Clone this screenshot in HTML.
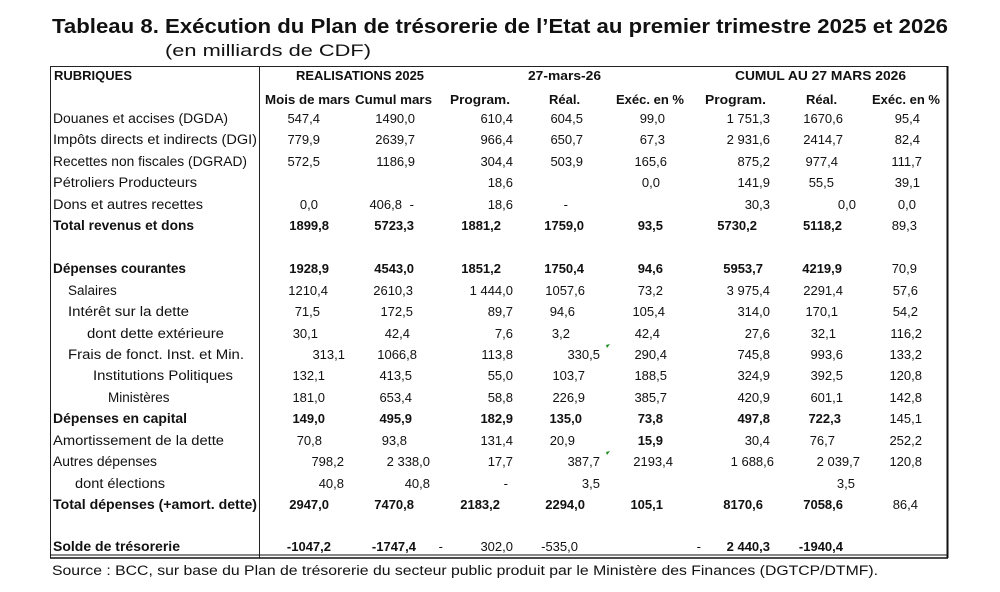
<!DOCTYPE html>
<html><head><meta charset="utf-8"><style>
html,body{margin:0;padding:0;background:#fff;}
svg{display:block;}
text{font-family:"Liberation Sans",sans-serif;fill:#111;}
.t{font-size:13.5px;}
.h{font-size:13px;}
.b{font-weight:bold;}
.n{font-size:13px;text-anchor:end;}
</style></head><body>
<svg width="1000" height="592" viewBox="0 0 1000 592" xmlns="http://www.w3.org/2000/svg">
<text x="52" y="33" font-size="20" font-weight="bold" textLength="896" lengthAdjust="spacingAndGlyphs">Tableau 8. Exécution du Plan de trésorerie de l’Etat au premier trimestre 2025 et 2026</text>
<text x="165" y="56" font-size="17" textLength="206" lengthAdjust="spacingAndGlyphs">(en milliards de CDF)</text>
<line x1="50" y1="66.5" x2="948" y2="66.5" stroke="#222" stroke-width="1"/>
<line x1="50.5" y1="66" x2="50.5" y2="558" stroke="#222" stroke-width="1"/>
<line x1="947.5" y1="66" x2="947.5" y2="558" stroke="#111" stroke-width="2"/>
<line x1="259.5" y1="66" x2="259.5" y2="558" stroke="#222" stroke-width="1"/>
<line x1="50" y1="555" x2="948" y2="555" stroke="#111" stroke-width="1"/>
<line x1="50" y1="558" x2="948" y2="558" stroke="#111" stroke-width="1.5"/>
<g class="h b">
<text x="54" y="80">RUBRIQUES</text>
<text x="296" y="80" textLength="128" lengthAdjust="spacingAndGlyphs">REALISATIONS 2025</text>
<text x="528" y="80" textLength="73" lengthAdjust="spacingAndGlyphs">27-mars-26</text>
<text x="735" y="80" textLength="171" lengthAdjust="spacingAndGlyphs">CUMUL  AU 27 MARS 2026</text>
<text x="265" y="104" textLength="85" lengthAdjust="spacingAndGlyphs">Mois de mars</text>
<text x="355" y="104" textLength="77" lengthAdjust="spacingAndGlyphs">Cumul mars</text>
<text x="450" y="104" textLength="60" lengthAdjust="spacingAndGlyphs">Program.</text>
<text x="549" y="104">Réal.</text>
<text x="616" y="104" textLength="68" lengthAdjust="spacingAndGlyphs">Exéc. en %</text>
<text x="705" y="104" textLength="61" lengthAdjust="spacingAndGlyphs">Program.</text>
<text x="806" y="104">Réal.</text>
<text x="872" y="104" textLength="68" lengthAdjust="spacingAndGlyphs">Exéc. en %</text>
</g>
<g class="t">
<text x="53" y="123" textLength="175" lengthAdjust="spacingAndGlyphs">Douanes et accises (DGDA)</text>
<text x="53" y="144" textLength="204" lengthAdjust="spacingAndGlyphs">Impôts directs et indirects (DGI)</text>
<text x="53" y="166" textLength="194" lengthAdjust="spacingAndGlyphs">Recettes non fiscales (DGRAD)</text>
<text x="53" y="187" textLength="144" lengthAdjust="spacingAndGlyphs">Pétroliers Producteurs</text>
<text x="53" y="209" textLength="150" lengthAdjust="spacingAndGlyphs">Dons et autres recettes</text>
<text x="53" y="230" class="b" textLength="141" lengthAdjust="spacingAndGlyphs">Total revenus et dons</text>
<text x="53" y="273" class="b" textLength="133" lengthAdjust="spacingAndGlyphs">Dépenses courantes</text>
<text x="68" y="295">Salaires</text>
<text x="68" y="316" textLength="121" lengthAdjust="spacingAndGlyphs">Intérêt sur la dette</text>
<text x="87" y="338" textLength="137" lengthAdjust="spacingAndGlyphs">dont dette extérieure</text>
<text x="68" y="359" textLength="176" lengthAdjust="spacingAndGlyphs">Frais de fonct. Inst. et Min.</text>
<text x="93" y="380" textLength="140" lengthAdjust="spacingAndGlyphs">Institutions Politiques</text>
<text x="108" y="402">Ministères</text>
<text x="53" y="423" class="b" textLength="134" lengthAdjust="spacingAndGlyphs">Dépenses en capital</text>
<text x="53" y="445" textLength="171" lengthAdjust="spacingAndGlyphs">Amortissement de la dette</text>
<text x="53" y="466" textLength="104" lengthAdjust="spacingAndGlyphs">Autres dépenses</text>
<text x="75" y="488" textLength="90" lengthAdjust="spacingAndGlyphs">dont élections</text>
<text x="53" y="509" class="b" textLength="204" lengthAdjust="spacingAndGlyphs">Total dépenses (+amort. dette)</text>
<text x="53" y="551" class="b" textLength="127" lengthAdjust="spacingAndGlyphs">Solde de trésorerie</text>
</g>
<g class="n">
<text x="320" y="123">547,4</text><text x="415" y="123">1490,0</text><text x="513" y="123">610,4</text><text x="583" y="123">604,5</text><text x="665" y="123">99,0</text><text x="770" y="123">1 751,3</text><text x="843" y="123">1670,6</text><text x="920" y="123">95,4</text>
<text x="320" y="144">779,9</text><text x="415" y="144">2639,7</text><text x="513" y="144">966,4</text><text x="583" y="144">650,7</text><text x="665" y="144">67,3</text><text x="770" y="144">2 931,6</text><text x="843" y="144">2414,7</text><text x="920" y="144">82,4</text>
<text x="320" y="166">572,5</text><text x="415" y="166">1186,9</text><text x="513" y="166">304,4</text><text x="583" y="166">503,9</text><text x="667" y="166">165,6</text><text x="770" y="166">875,2</text><text x="838" y="166">977,4</text><text x="922" y="166">111,7</text>
<text x="513" y="187">18,6</text><text x="660" y="187">0,0</text><text x="770" y="187">141,9</text><text x="834" y="187">55,5</text><text x="920" y="187">39,1</text>
<text x="318" y="209">0,0</text><text x="402" y="209">406,8</text><text x="414" y="209">-</text><text x="513" y="209">18,6</text><text x="568" y="209">-</text><text x="770" y="209">30,3</text><text x="856" y="209">0,0</text><text x="916" y="209">0,0</text>
</g>
<g class="n b">
<text x="329" y="230">1899,8</text><text x="414" y="230">5723,3</text><text x="501" y="230">1881,2</text><text x="584" y="230">1759,0</text><text x="663" y="230">93,5</text><text x="757" y="230">5730,2</text><text x="842" y="230">5118,2</text>
<text x="329" y="273">1928,9</text><text x="414" y="273">4543,0</text><text x="501" y="273">1851,2</text><text x="584" y="273">1750,4</text><text x="663" y="273">94,6</text><text x="763" y="273">5953,7</text><text x="842" y="273">4219,9</text>
</g>
<g class="n">
<text x="917" y="230">89,3</text><text x="917" y="273">70,9</text>
<text x="328" y="295">1210,4</text><text x="413" y="295">2610,3</text><text x="513" y="295">1 444,0</text><text x="585" y="295">1057,6</text><text x="663" y="295">73,2</text><text x="770" y="295">3 975,4</text><text x="843" y="295">2291,4</text><text x="918" y="295">57,6</text>
<text x="320" y="316">71,5</text><text x="413" y="316">172,5</text><text x="513" y="316">89,7</text><text x="575" y="316">94,6</text><text x="665" y="316">105,4</text><text x="770" y="316">314,0</text><text x="838" y="316">170,1</text><text x="918" y="316">54,2</text>
<text x="318" y="338">30,1</text><text x="410" y="338">42,4</text><text x="513" y="338">7,6</text><text x="570" y="338">3,2</text><text x="660" y="338">42,4</text><text x="770" y="338">27,6</text><text x="836" y="338">32,1</text><text x="922" y="338">116,2</text>
<text x="345" y="359">313,1</text><text x="417" y="359">1066,8</text><text x="513" y="359">113,8</text><text x="600" y="359">330,5</text><text x="667" y="359">290,4</text><text x="770" y="359">745,8</text><text x="843" y="359">993,6</text><text x="922" y="359">133,2</text>
<text x="325" y="380">132,1</text><text x="412" y="380">413,5</text><text x="513" y="380">55,0</text><text x="585" y="380">103,7</text><text x="667" y="380">188,5</text><text x="770" y="380">324,9</text><text x="843" y="380">392,5</text><text x="922" y="380">120,8</text>
<text x="325" y="402">181,0</text><text x="412" y="402">653,4</text><text x="513" y="402">58,8</text><text x="585" y="402">226,9</text><text x="667" y="402">385,7</text><text x="770" y="402">420,9</text><text x="843" y="402">601,1</text><text x="922" y="402">142,8</text>
</g>
<g class="n b">
<text x="325" y="423">149,0</text><text x="412" y="423">495,9</text><text x="513" y="423">182,9</text><text x="582" y="423">135,0</text><text x="663" y="423">73,8</text><text x="770" y="423">497,8</text><text x="841" y="423">722,3</text>
<text x="663" y="445">15,9</text>
<text x="329" y="509">2947,0</text><text x="414" y="509">7470,8</text><text x="500" y="509">2183,2</text><text x="585" y="509">2294,0</text><text x="663" y="509">105,1</text><text x="763" y="509">8170,6</text><text x="843" y="509">7058,6</text>
<text x="331" y="551">-1047,2</text><text x="416" y="551">-1747,4</text><text x="770" y="551">2 440,3</text><text x="843" y="551">-1940,4</text>
</g>
<g class="n">
<text x="922" y="423">145,1</text>
<text x="322" y="445">70,8</text><text x="407" y="445">93,8</text><text x="513" y="445">131,4</text><text x="575" y="445">20,9</text><text x="770" y="445">30,4</text><text x="835" y="445">76,7</text><text x="922" y="445">252,2</text>
<text x="344" y="466">798,2</text><text x="430" y="466">2 338,0</text><text x="513" y="466">17,7</text><text x="600" y="466">387,7</text><text x="673" y="466">2193,4</text><text x="774" y="466">1 688,6</text><text x="860" y="466">2 039,7</text><text x="922" y="466">120,8</text>
<text x="344" y="488">40,8</text><text x="430" y="488">40,8</text><text x="508" y="488">-</text><text x="600" y="488">3,5</text><text x="855" y="488">3,5</text>
<text x="918" y="509">86,4</text>
<text x="443" y="551">-</text><text x="513" y="551">302,0</text><text x="578" y="551">-535,0</text><text x="701" y="551">-</text>
</g>
<polygon points="606,345 610,344 607,348" fill="#1a8a1a"/>
<polygon points="606,452 610,451 607,455" fill="#1a8a1a"/>
<text x="52" y="575" font-size="13.5" textLength="826" lengthAdjust="spacingAndGlyphs">Source : BCC, sur base du Plan de trésorerie du secteur public produit par le Ministère des Finances (DGTCP/DTMF).</text>
</svg>
</body></html>
